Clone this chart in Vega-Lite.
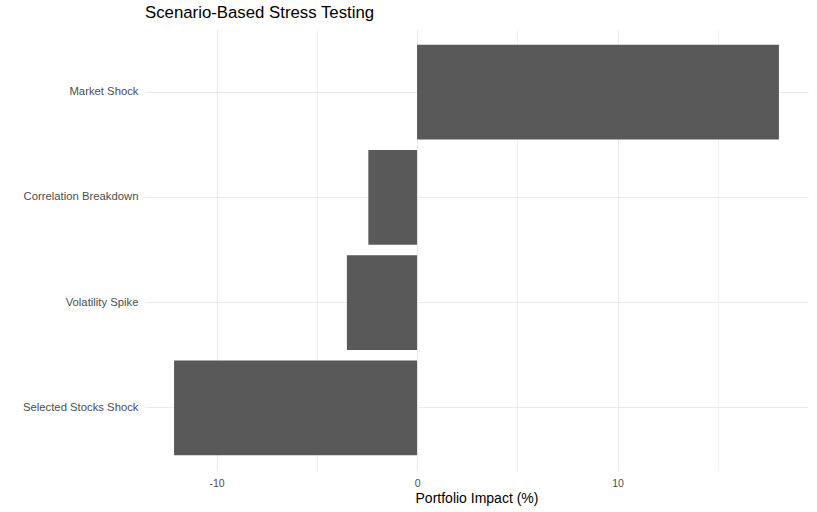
{
  "$schema": "https://vega.github.io/schema/vega-lite/v6.json",
  "width": 663,
  "height": 442,
  "autosize": {"type": "none"},
  "padding": {"left": 145, "top": 29, "right": 9, "bottom": 41},
  "background": "white",
  "title": {
    "text": "Scenario-Based Stress Testing",
    "anchor": "start",
    "frame": "group",
    "font": "Liberation Sans",
    "fontSize": 16.8,
    "fontWeight": "normal",
    "color": "#000000",
    "offset": 7
  },
  "config": {
    "view": {"stroke": null},
    "axis": {
      "domain": false,
      "ticks": false,
      "labelFont": "Liberation Sans",
      "titleFont": "Liberation Sans",
      "labelColor": "#4d4d4d",
      "labelFontSize": 10.5,
      "gridColor": "#ebebeb"
    }
  },
  "data": {
    "values": [
      {"scenario": "Market Shock", "impact": 18.05},
      {"scenario": "Correlation Breakdown", "impact": -2.43},
      {"scenario": "Volatility Spike", "impact": -3.5},
      {"scenario": "Selected Stocks Shock", "impact": -12.12}
    ]
  },
  "mark": {"type": "bar", "color": "#595959"},
  "encoding": {
    "y": {
      "field": "scenario",
      "type": "nominal",
      "sort": ["Market Shock", "Correlation Breakdown", "Volatility Spike", "Selected Stocks Shock"],
      "scale": {"paddingInner": 0.1, "paddingOuter": 0.15},
      "axis": {
        "title": null,
        "grid": true,
        "bandPosition": 0.5,
        "gridWidth": 1.1,
        "labelFontSize": 11.3,
        "labelPadding": 7
      }
    },
    "x": {
      "field": "impact",
      "type": "quantitative",
      "scale": {"domain": [-13.57, 19.5], "nice": false, "zero": false},
      "axis": {
        "title": "Portfolio Impact (%)",
        "titleFontSize": 14,
        "titleFontWeight": "normal",
        "titleColor": "#000000",
        "titlePadding": 3,
        "values": [-10, -5, 0, 5, 10, 15],
        "labelExpr": "datum.value % 10 == 0 ? '' + datum.value : ''",
        "labelPadding": 7,
        "grid": true,
        "gridWidth": {"condition": {"test": "datum.value % 10 == 0", "value": 1.1}, "value": 0.6}
      }
    }
  }
}
